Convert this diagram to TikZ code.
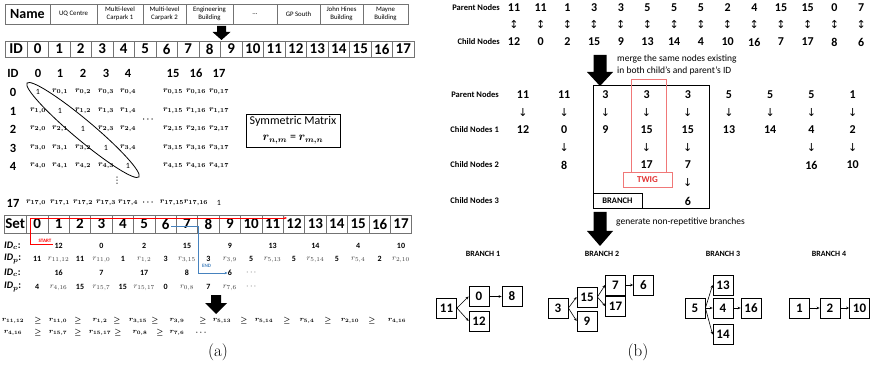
\documentclass[tikz,border=0pt]{standalone}
\usepackage{fontspec}
\setmainfont{Carlito}
\newfontfamily\dejavu{DejaVu Sans}
\newfontfamily\lmroman{Latin Modern Roman}
\usetikzlibrary{shapes.geometric,arrows.meta}
\definecolor{setblue}{RGB}{70,130,190}
\definecolor{twigred}{RGB}{225,50,50}
\definecolor{lightred}{RGB}{240,120,120}
\begin{document}
\begin{tikzpicture}[x=1pt,y=-1pt,
  cell/.style={draw=black!55, line width=0.6pt, inner sep=0pt, align=center, font=\fontsize{6.8}{7.8}\selectfont},
  idcell/.style={draw=black!55, line width=0.6pt, inner sep=0pt, font=\bfseries\fontsize{15}{15}\selectfont},
  mhead/.style={font=\bfseries\fontsize{12.5}{12.5}\selectfont, inner sep=0pt},
  ment/.style={font=\fontsize{8}{8}\selectfont\boldmath, inner sep=0pt},
  sval/.style={font=\bfseries\fontsize{8}{8}\selectfont, inner sep=0pt},
  sr/.style={font=\fontsize{8}{8}\selectfont, text=black!75, inner sep=0pt},
  slabel/.style={font=\fontsize{10}{10}\selectfont\boldmath, anchor=west, inner sep=0pt},
  geq/.style={font=\fontsize{7.5}{7.5}\selectfont\boldmath, inner sep=0pt},
  rlabel/.style={font=\bfseries\fontsize{8.5}{8.5}\selectfont, anchor=east, inner sep=0pt},
  rval/.style={font=\bfseries\fontsize{12}{12}\selectfont, inner sep=0pt},
  arr/.style={font=\dejavu\fontsize{11}{11}\selectfont, inner sep=0pt},
  note/.style={font=\fontsize{9.5}{11}\selectfont, anchor=west, inner sep=0pt},
  blabel/.style={font=\bfseries\fontsize{8}{8}\selectfont, inner sep=0pt},
  bbox/.style={draw, line width=0.8pt, minimum width=20, minimum height=20, inner sep=0pt, font=\bfseries\fontsize{13}{13}\selectfont},
  link/.style={-{Stealth[length=3pt,width=2.6pt]}, line width=0.6pt},
  capt/.style={font=\lmroman\fontsize{17}{17}\selectfont, inner sep=0pt}
]
\useasboundingbox (0,0) rectangle (873,390);

% ---------------- (a) ----------------
% name row
\node[cell, minimum width=45, minimum height=20, font=\bfseries\fontsize{14}{14}\selectfont] (name) at (27.5,14) {Name};
\foreach \a/\b/\txt [count=\k] in {50/97/{UQ Centre}, 97/143/{Multi-level\\Carpark 1}, 143/186/{Multi-level\\Carpark 2}, 186/233/{Engineering\\Building}, 233/277/{...}, 277/320/{GP South}, 320/363/{John Hines\\Building}, 363/408/{Mayne\\Building}}
  \node[cell, minimum width={\b-\a}, minimum height=20] (nm\k) at ({(\a+\b)/2},14) {\txt};

% arrow 1
\fill (217,26) -- (226,26) -- (226,32) -- (230.5,32) -- (221.5,40) -- (212.5,32) -- (217,32) -- cycle;

% ID row
\node[idcell, minimum width=22, minimum height=16] (idh) at (16,49) {ID};
\foreach \i in {0,...,17}
  \node[idcell, minimum width=21.5, minimum height=16] (id\i) at ({37.75+21.5*\i},49) {\i};

% matrix header
\node[mhead] (mh) at (13,73) {ID};
\foreach \c/\cx in {0/38,1/60,2/83,3/106,4/128,15/173,16/196,17/219}
  \node[mhead] (mh\c) at (\cx,73) {\c};
% matrix rows
\foreach \r/\ry in {0/92,1/111,2/129,3/148,4/166} {
  \node[mhead] (mr\r) at (13,\ry) {\r};
  \foreach \c/\cx in {0/38,1/60,2/83,3/106,4/128,15/173,16/196,17/219} {
    \ifnum\r=\c\relax
      \node[ment] (m\r-\c) at (\cx,\ry) {1};
    \else
      \node[ment] (m\r-\c) at (\cx,\ry) {$r_{\r,\c}$};
    \fi
  }
}
\node[ment] (mdots) at (148,120) {$\cdots$};
\node[font=\dejavu\fontsize{9}{9}\selectfont, inner sep=0pt] (vdots) at (117,181) {⋮};
\node[mhead] (mr17) at (13,203) {17};
\foreach \c/\cx in {0/36,1/60,2/83,3/106,4/128}
  \node[ment] (m17-\c) at (\cx,203) {$r_{17,\c}$};
\node[ment] (mdots17) at (148,203) {$\cdots$};
\node[ment] (m17-15) at (172,203) {$r_{17,15}$};
\node[ment] (m17-16) at (196,203) {$r_{17,16}$};
\node[ment] (m17-17) at (219,203) {1};
% diagonal ellipse
\node[draw, ellipse, rotate=-40, minimum width=146, minimum height=20, inner sep=0pt, line width=0.8pt] (diag) at (83,130) {};
% symmetric matrix box
\node[draw, line width=0.7pt, minimum width=94, minimum height=33, inner sep=0pt, align=center, font=\fontsize{12}{16}\selectfont] (sym) at (293,130.5)
  {Symmetric Matrix\\{\boldmath$r_{n,m}$} = {\boldmath$r_{m,n}$}};

% Set row
\node[idcell, minimum width=22.5, minimum height=18] (seth) at (15.25,224) {Set};
\foreach \i in {0,...,17}
  \node[idcell, minimum width=21.4, minimum height=18] (set\i) at ({37.2+21.4*\i},224) {\i};

% set rows labels
\node[slabel] (lc1) at (4,246) {$\mathit{ID}_c$\textbf{:}};
\node[slabel] (lp1) at (4,259) {$\mathit{ID}_p$\textbf{:}};
\node[slabel] (lc2) at (4,273) {$\mathit{ID}_c$\textbf{:}};
\node[slabel] (lp2) at (4,287) {$\mathit{ID}_p$\textbf{:}};
% ID_c row 1
\foreach \c/\v in {1/12,3/0,5/2,7/15,9/9,11/13,13/14,15/4,17/10}
  \node[sval] (c1-\c) at ({37.2+21.4*\c},246) {\v};
% ID_p row 1
\foreach \c/\v in {0/11,2/11,4/1,6/3,8/3,10/5,12/5,14/5,16/2}
  \node[sval] (p1-\c) at ({37.2+21.4*\c},259) {\v};
\foreach \c/\v in {1/{11,12},3/{11,0},5/{1,2},7/{3,15},9/{3,9},11/{5,13},13/{5,14},15/{5,4},17/{2,10}}
  \node[sr] (p1-\c) at ({37.2+21.4*\c},260) {$r_{\v}$};
% ID_c row 2
\foreach \c/\v in {1/16,3/7,5/17,7/8,9/6}
  \node[sval] (c2-\c) at ({37.2+21.4*\c},273) {\v};
\node[sval] (c2-10) at ({37.2+21.4*10},273) {$\cdots$};
% ID_p row 2
\foreach \c/\v in {0/4,2/15,4/15,6/0,8/7}
  \node[sval] (p2-\c) at ({37.2+21.4*\c},287) {\v};
\foreach \c/\v in {1/{4,16},3/{15,7},5/{15,17},7/{0,8},9/{7,6}}
  \node[sr] (p2-\c) at ({37.2+21.4*\c},288) {$r_{\v}$};
\node[sval] (p2-10) at ({37.2+21.4*10},287) {$\cdots$};

% START path (red)
\coordinate (rs1) at (53,244);
\coordinate (rs2) at (30,244);
\coordinate (rs3) at (30,218);
\coordinate (rs4) at (287,218);
\draw[red, line width=0.6pt, -{Stealth[length=3pt,width=2.5pt]}] (rs1) -- (rs2) -- (rs3) -- (rs4);
\node[text=red, font=\bfseries\fontsize{5}{5}\selectfont, inner sep=0pt] (start) at (45,240.5) {START};
% END path (blue)
\coordinate (be1) at (171,226);
\coordinate (be2) at (198,226);
\coordinate (be3) at (198,273);
\draw[setblue, line width=0.6pt, -{Stealth[length=3pt,width=2.5pt]}] (be1) -- (be2) -- (be3) -- (c2-9.west |- be3);
\node[text=setblue, font=\bfseries\fontsize{5}{5}\selectfont, inner sep=0pt] (endl) at (206.5,266) {END};

% arrow 2
\fill (211,295) -- (221,295) -- (221,303) -- (227,303) -- (216,314) -- (205,303) -- (211,303) -- cycle;

% >= rows
\foreach \x/\v [count=\k] in {13/{11,12},58/{11,0},100/{1,2},138/{3,15},177/{3,9},222/{5,13},264/{5,14},307/{5,4},350/{2,10},397/{4,16}}
  \node[geq] (g1-\k) at (\x,321) {$r_{\v}$};
\foreach \x [count=\k] in {38,78,117,155,203,244,287,328,372}
  \node[geq] (ge1-\k) at (\x,321) {$\geq$};
\foreach \x/\v [count=\k] in {13/{4,16},58/{15,7},100/{15,17},140/{0,8},177/{7,6}}
  \node[geq] (g2-\k) at (\x,333) {$r_{\v}$};
\foreach \x [count=\k] in {38,78,118,160}
  \node[geq] (ge2-\k) at (\x,333) {$\geq$};
\node[geq] (g2dots) at (201,333) {$\cdots$};

\node[capt] (capa) at (218,352) {(a)};

% ---------------- (b) ----------------
\node[rlabel] (tpl) at (500,8) {Parent Nodes};
\node[rlabel] (tcl) at (500,42) {Child Nodes};
\foreach \p/\c [count=\k from 0] in {11/12,11/0,1/2,3/15,3/9,5/13,5/14,5/4,2/10,4/16,15/7,15/17,0/8,7/6} {
  \node[rval] (tp\k) at ({514+26.7*\k},8) {\p};
  \node[arr] (ta\k) at ({514+26.7*\k},24.5) {↕};
  \node[rval] (tc\k) at ({514+26.7*\k},42) {\c};
}

% arrow 3
\fill (593.5,55) -- (606.5,55) -- (606.5,72) -- (613,72) -- (600,86) -- (587,72) -- (593.5,72) -- cycle;
\node[note] (merge) at (617,59) {merge the same nodes existing};
\node[note] (merge2) at (617,71) {in both child’s and parent’s ID};

% branch box and twig
\node[draw, line width=0.8pt, minimum width=116, minimum height=123, inner sep=0pt] (brbox) at (651,146.5) {};
\node[draw=lightred, line width=0.8pt, minimum width=49, minimum height=15, inner sep=0pt, text=twigred, font=\bfseries\fontsize{9}{9}\selectfont] (twig) at (647.5,179.5) {TWIG};
\coordinate (tw1) at (631,79);
\coordinate (tw2) at (666,79);
\draw[lightred, line width=0.8pt] (twig.north -| tw1) -- (tw1) -- (tw2) -- (twig.north -| tw2);
\node[draw, line width=0.8pt, minimum width=49, minimum height=15, inner sep=0pt, font=\bfseries\fontsize{8.5}{8.5}\selectfont] (brlab) at (617.5,200.5) {BRANCH};

\node[rlabel] (mpl) at (499,95) {Parent Nodes};
\node[rlabel] (mc1) at (499,130) {Child Nodes 1};
\node[rlabel] (mc2) at (499,165) {Child Nodes 2};
\node[rlabel] (mc3) at (499,201) {Child Nodes 3};
\foreach \p/\c [count=\k from 0] in {11/12,11/0,3/9,3/15,3/15,5/13,5/14,5/4,1/2} {
  \node[rval] (mp\k) at ({523+41.2*\k},95) {\p};
  \node[arr] (ma\k) at ({523+41.2*\k},112.5) {↓};
  \node[rval] (mc\k) at ({523+41.2*\k},130) {\c};
}
\foreach \k in {1,3,4,7,8}
  \node[arr] (mb\k) at ({523+41.2*\k},148) {↓};
\foreach \k/\v in {1/8,3/17,4/7,7/16,8/10}
  \node[rval] (md\k) at ({523+41.2*\k},165) {\v};
\node[arr] (me4) at ({523+41.2*4},182.5) {↓};
\node[rval] (mf4) at ({523+41.2*4},201) {6};

% arrow 4
\fill (593.5,212) -- (606.5,212) -- (606.5,231) -- (613,231) -- (600,246) -- (587,231) -- (593.5,231) -- cycle;
\node[note] (gen) at (616,222) {generate non-repetitive branches};

% branch labels
\node[blabel] (bl1) at (483,254) {BRANCH 1};
\node[blabel] (bl2) at (602,254) {BRANCH 2};
\node[blabel] (bl3) at (723,254) {BRANCH 3};
\node[blabel] (bl4) at (829,254) {BRANCH 4};

% branch 1
\node[bbox] (b11) at (446.5,308) {11};
\node[bbox] (b10) at (479,296.5) {0};
\node[bbox] (b18) at (512,296.5) {8};
\node[bbox] (b112) at (479,321) {12};
\draw[link] (b11.east) -- (b10.west);
\draw[link] (b11.east) -- (b112.west);
\draw[link] (b10.east) -- (b18.west);
% branch 2
\node[bbox] (b23) at (558,308) {3};
\node[bbox] (b215) at (587,297) {15};
\node[bbox] (b29) at (587,321) {9};
\node[bbox] (b27) at (615.5,285) {7};
\node[bbox] (b217) at (615.5,306) {17};
\node[bbox] (b26) at (643.5,285) {6};
\draw[link] (b23.east) -- (b215.west);
\draw[link] (b23.east) -- (b29.west);
\draw[link] (b215.east) -- (b27.west);
\draw[link] (b215.east) -- (b217.west);
\draw[link] (b27.east) -- (b26.west);
% branch 3
\node[bbox] (b35) at (695,308) {5};
\node[bbox] (b313) at (723,285) {13};
\node[bbox] (b34) at (723,308) {4};
\node[bbox] (b314) at (723,334.5) {14};
\node[bbox] (b316) at (751,308) {16};
\draw[link] (b35.east) -- (b313.west);
\draw[link] (b35.east) -- (b34.west);
\draw[link] (b35.east) -- (b314.west);
\draw[link] (b34.east) -- (b316.west);
% branch 4
\node[bbox] (b41) at (799.5,308) {1};
\node[bbox] (b42) at (830,308) {2};
\node[bbox] (b410) at (859.5,308) {10};
\draw[link] (b41.east) -- (b42.west);
\draw[link] (b42.east) -- (b410.west);

\node[capt] (capb) at (638,352) {(b)};
\end{tikzpicture}
\end{document}
